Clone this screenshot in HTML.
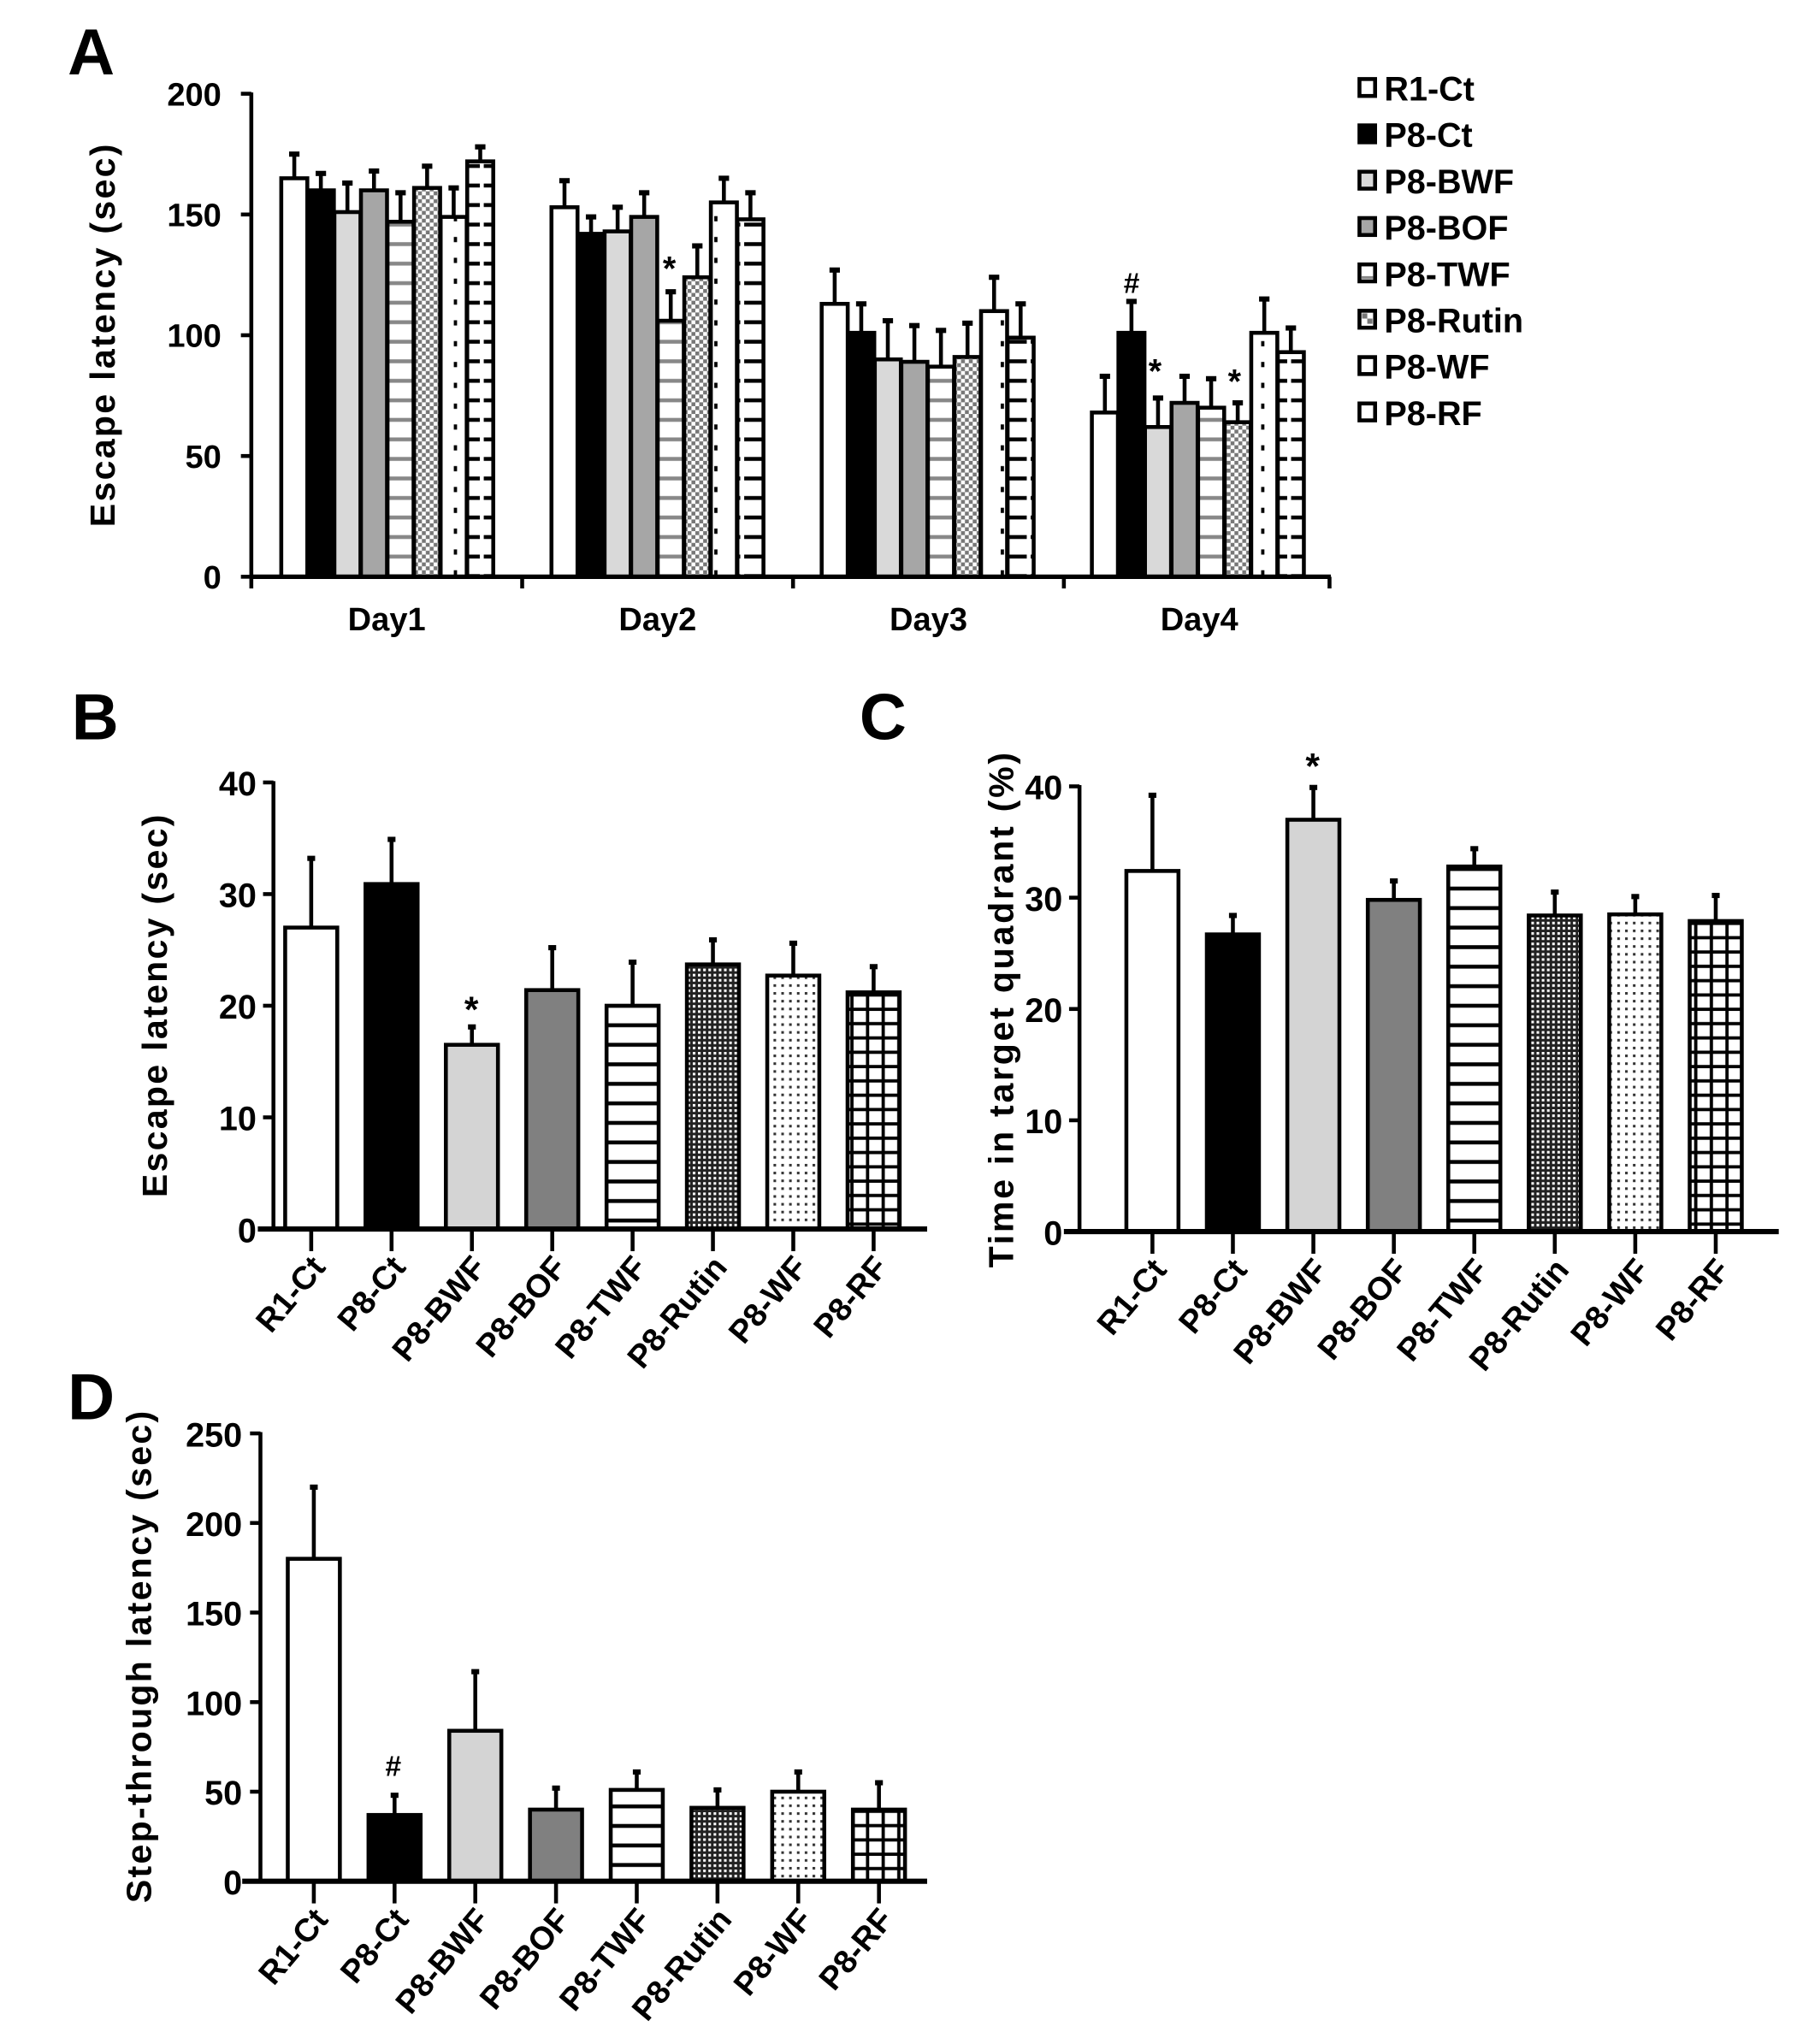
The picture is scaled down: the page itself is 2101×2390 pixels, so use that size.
<!DOCTYPE html>
<html><head><meta charset="utf-8"><style>
html,body{margin:0;padding:0;background:#fff}
svg{display:block}
text{font-family:"Liberation Sans",Arial,sans-serif;font-weight:bold;fill:#000}
.n{font-family:"Liberation Sans Narrow","Liberation Sans",sans-serif}
</style></head><body>
<svg id="s" xmlns="http://www.w3.org/2000/svg" width="2101" height="2390" viewBox="0 0 1380 1570" preserveAspectRatio="none">
<defs>
<pattern id="twfA" patternUnits="userSpaceOnUse" width="20" height="15"><rect width="20" height="15" fill="#fff"/><rect y="6" width="20" height="3" fill="#888"/></pattern>
<pattern id="rutA" patternUnits="userSpaceOnUse" width="6" height="6"><rect width="6" height="6" fill="#fff"/><rect width="3" height="3" fill="#777"/><rect x="3" y="3" width="3" height="3" fill="#777"/></pattern>
<pattern id="wfA" patternUnits="userSpaceOnUse" width="20" height="16"><rect width="20" height="16" fill="#fff"/><rect x="8.5" y="6" width="2.5" height="4" fill="#000"/></pattern>
<pattern id="rfA" patternUnits="userSpaceOnUse" width="20" height="15"><rect width="20" height="15" fill="#fff"/><rect y="6" width="20" height="3" fill="#000"/><rect x="8.5" width="3" height="15" fill="#fff"/></pattern>
<pattern id="twf" patternUnits="userSpaceOnUse" width="10" height="15"><rect width="10" height="15" fill="#fff"/><rect y="6" width="10" height="3" fill="#000"/></pattern>
<pattern id="rut" patternUnits="userSpaceOnUse" width="4" height="4"><rect width="4" height="4" fill="#222"/><rect width="2" height="2" fill="#fff"/></pattern>
<pattern id="wf" patternUnits="userSpaceOnUse" width="6" height="6"><rect width="6" height="6" fill="#fff"/><rect width="2" height="2" fill="#333"/></pattern>
<pattern id="rf" patternUnits="userSpaceOnUse" width="12" height="11"><rect width="12" height="11" fill="#fff"/><rect y="4" width="12" height="2.5" fill="#000"/><rect x="5" width="2.5" height="11" fill="#000"/></pattern>
</defs>
<g id="g"></g>
</svg>
<script>
var g=document.getElementById('g'),out='';
function L(x1,y1,x2,y2,w){out+='<line x1="'+x1+'" y1="'+y1+'" x2="'+x2+'" y2="'+y2+'" stroke="#000" stroke-width="'+(w||2.5)+'"/>';}
function R(x,y,w,h,f,sw){out+='<rect x="'+x+'" y="'+y+'" width="'+w+'" height="'+h+'" fill="'+f+'" stroke="#000" stroke-width="'+(sw||2.5)+'"/>';}
function T(x,y,s,sz,anc,cls,tr,ls){out+='<text x="'+x+'" y="'+y+'" font-size="'+sz+'" text-anchor="'+(anc||'start')+'"'+(cls?' class="'+cls+'"':'')+(tr?' transform="'+tr+'"':'')+(ls?' letter-spacing="'+ls+'"':'')+'>'+s+'</text>';}
function bar(x,w,v,e,y0,k,f,sw,cap){var t=y0-v*k,et=y0-e*k;L(x+w/2,t,x+w/2,et,sw);L(x+w/2-cap,et,x+w/2+cap,et,sw+1);R(x,t,w,v*k,f,sw);}
var fa=['#fff','#000','#d9d9d9','#a6a6a6','url(#twfA)','url(#rutA)','url(#wfA)','url(#rfA)'];
var VA=[[165,160,151,160,147,161,149,172],[153,142,143,149,106,124,155,148],[113,101,90,89,87,91,110,99],[68,101,62,72,70,64,101,93]];
var EA=[[175,167,163,168,159,170,161,178],[164,149,153,159,118,137,165,159],[127,113,106,104,102,105,124,113],[83,114,74,83,82,72,115,103]];
var kA=(443-72)/200;
for(var d=0;d<4;d++)for(var i=0;i<8;i++){bar(216+207.5*d+20.4*i,20,VA[d][i],EA[d][i],443,kA,fa[i],3,4);}
L(193,71,193,444,3);L(192,443,1022,443,3.5);
[193,401,609,817,1021].forEach(function(x){L(x,443,x,452,3);});
for(var v=0;v<=200;v+=50){var y=443-v*kA;L(185,y,193,y,3);T(170,y+9,v,25,'end','n');}
['Day1','Day2','Day3','Day4'].forEach(function(s,i){T(297+208*i,484,s,25,'middle','n');});
T(88,257,'Escape latency (sec)',27,'middle','','rotate(-90 88 257)','1.5');
T(52,57,'A',50,'start','n');
T(514,215,'*',26,'middle');T(869,225,'#',22,'middle','n');T(887,294,'*',26,'middle');T(948,302,'*',26,'middle');
var lg=['R1-Ct','P8-Ct','P8-BWF','P8-BOF','P8-TWF','P8-Rutin','P8-WF','P8-RF'];
var lf=['#fff','#000','#d9d9d9','#a6a6a6','#fff','#fff','#fff','#fff'];
for(var i=0;i<8;i++){var y=67.7+35.6*i;R(1044,y-7,12,13,lf[i],3);
 if(i==4)out+='<rect x="1045.5" y="'+(y+2)+'" width="9" height="2" fill="#888"/>';
 if(i==5)out+='<rect x="1046" y="'+(y-5)+'" width="4" height="4" fill="#777"/><rect x="1050" y="'+(y-1)+'" width="4" height="4" fill="#777"/>';
 T(1063,y+9.5,lg[i],26);}
var fb=['#fff','#000','#d4d4d4','#808080','url(#twf)','url(#rut)','url(#wf)','url(#rf)'];
function cats(c0,sp,y0){for(var i=0;i<8;i++){var cx=c0+sp*i;L(cx,y0,cx,y0+17,3);var tx=cx+12,ty=y0+30;T(tx,ty,lg[i],25,'end','','rotate(-50 '+tx+' '+ty+')');}}
var kB=(944-601)/40,VB=[27,30.9,16.5,21.4,20,23.7,22.7,21.2],EB=[33.2,34.9,18.1,25.2,23.9,25.9,25.6,23.5];
for(var i=0;i<8;i++)bar(239+61.7*i-20,40,VB[i],EB[i],944,kB,fb[i],3,3);
L(210,600,210,945,3);L(198,944,712,944,4);
for(var v=0;v<=40;v+=10){var y=944-v*kB;L(202,y,210,y,3);T(197,y+10,v,26,'end','n');}
cats(239,61.7,944);
T(362,785,'*',28,'middle');
T(128,772,'Escape latency (sec)',27,'middle','','rotate(-90 128 772)','1.5');
T(55,568,'B',50,'start','n');
var kC=(946-604)/40,VC=[32.4,26.7,37,29.8,32.8,28.4,28.5,27.9],EC=[39.2,28.4,39.9,31.5,34.4,30.5,30.1,30.2];
for(var i=0;i<8;i++)bar(885+61.8*i-20,40,VC[i],EC[i],946,kC,fb[i],3,3);
L(829,603,829,947,3);L(817,946,1366,946,4);
for(var v=0;v<=40;v+=10){var y=946-v*kC;L(821,y,829,y,3);T(816,y+10,v,26,'end','n');}
cats(885,61.8,946);
T(1008,598,'*',28,'middle');
T(778,775,'Time in target quadrant (%)',27,'middle','','rotate(-90 778 775)','1.8');
T(660,568,'C',50,'start','n');
var kD=(1445-1101)/250,VD=[180,37,84,40,51,41,50,40],ED=[220,48,117,52,61,51,61,55];
for(var i=0;i<8;i++)bar(241+62*i-20,40,VD[i],ED[i],1445,kD,fb[i],3,3);
L(200,1100,200,1446,3);L(186,1445,712,1445,4);
for(var v=0;v<=250;v+=50){var y=1445-v*kD;L(192,y,200,y,3);T(186,y+10,v,26,'end','n');}
cats(241,62,1445);
T(302,1364,'#',22,'middle','n');
T(116,1272,'Step-through latency (sec)',27,'middle','','rotate(-90 116 1272)','1.5');
T(52,1090,'D',50,'start','n');
g.innerHTML=out;
</script>
</body></html>
